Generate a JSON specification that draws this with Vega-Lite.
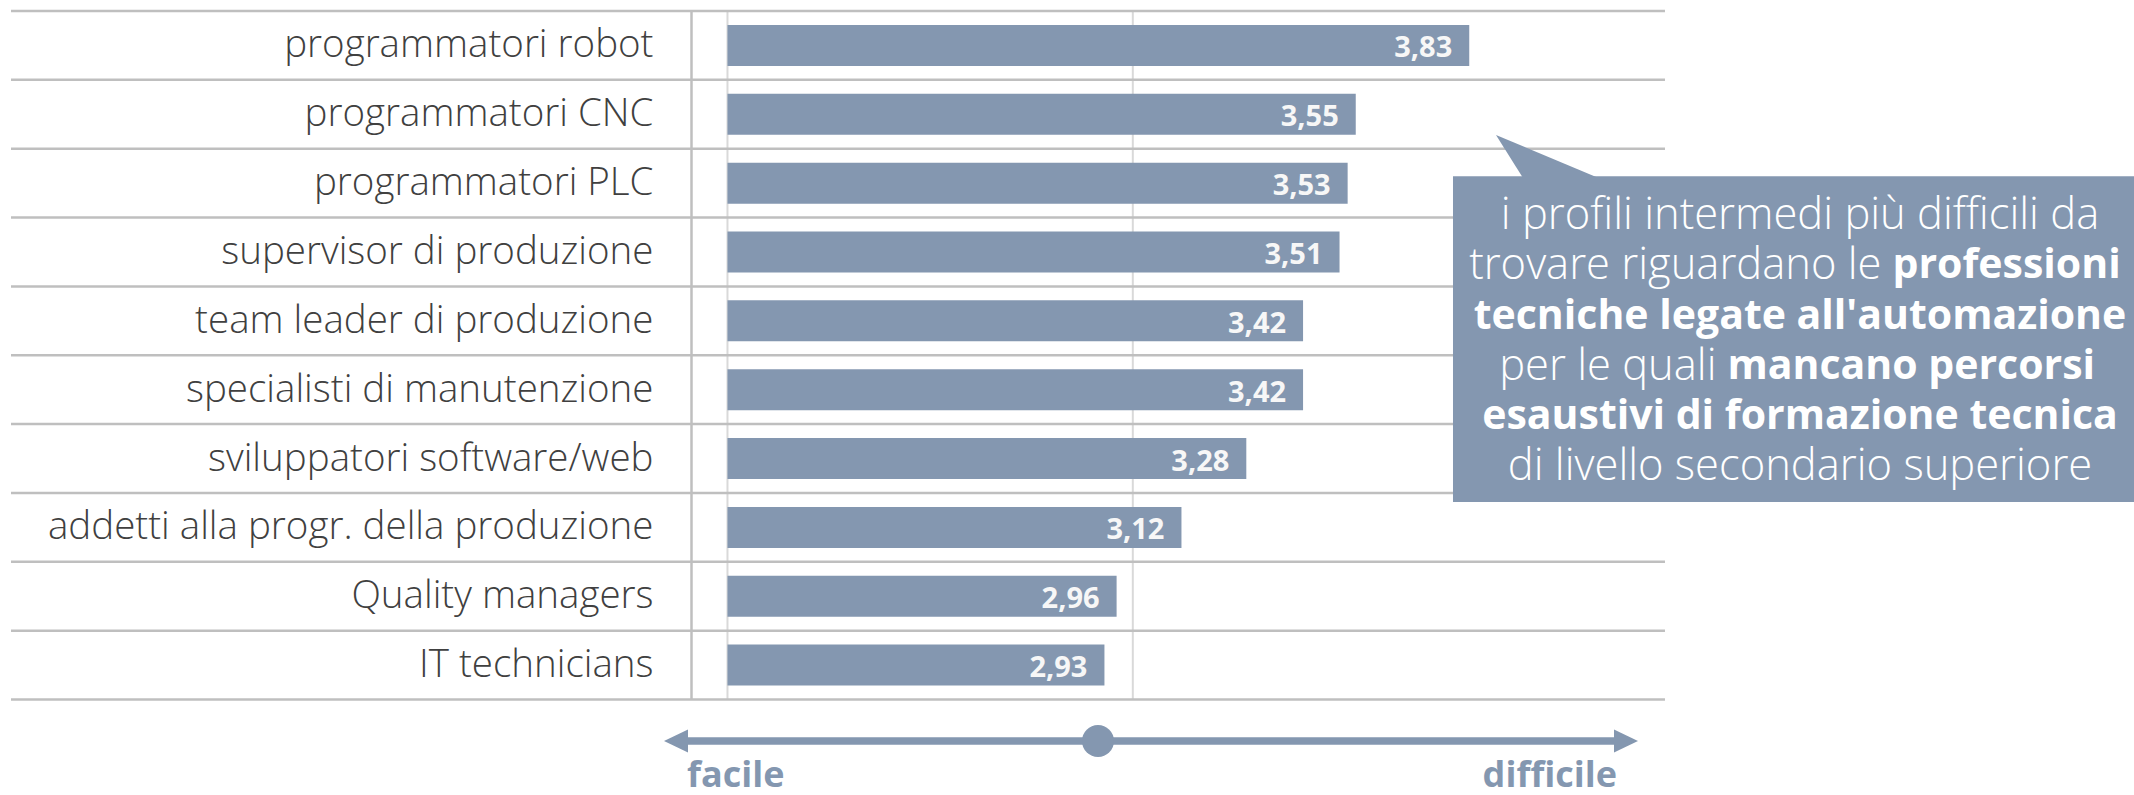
{
  "$schema": "https://vega.github.io/schema/vega-lite/v6.json",
  "width": 1443,
  "height": 795,
  "autosize": {"type": "none"},
  "padding": {"left": 691, "top": 0, "right": 0, "bottom": 0},
  "background": "white",
  "config": {
    "view": {"stroke": null},
    "locale": {"number": {"decimal": ",", "thousands": ".", "grouping": [3], "currency": ["", " €"]}}
  },
  "resolve": {"scale": {"y": "independent"}},
  "layer": [
    {
      "data": {"values": [{}]},
      "layer": [
        {
          "mark": {"type": "rule", "color": "#d9d9d9", "strokeWidth": 2},
          "encoding": {
            "x": {"datum": 2, "type": "quantitative", "scale": {"domain": [1.91, 5.47], "nice": false, "zero": false}, "axis": null},
            "y": {"datum": 0, "type": "quantitative", "scale": {"domain": [0, 10], "range": [11, 699.5], "nice": false, "zero": false}, "axis": null},
            "y2": {"datum": 10}
          }
        },
        {
          "mark": {"type": "rule", "color": "#d9d9d9", "strokeWidth": 2},
          "encoding": {
            "x": {"datum": 3, "type": "quantitative", "scale": {"domain": [1.91, 5.47], "nice": false, "zero": false}, "axis": null},
            "y": {"datum": 0, "type": "quantitative", "scale": {"domain": [0, 10], "range": [11, 699.5], "nice": false, "zero": false}, "axis": null},
            "y2": {"datum": 10}
          }
        },
        {
          "mark": {"type": "rule", "color": "#bfbfbf", "strokeWidth": 2.5},
          "encoding": {
            "x": {"datum": 0.2324, "type": "quantitative", "scale": {"domain": [1.91, 5.47], "nice": false, "zero": false}, "axis": null},
            "x2": {"datum": 4.3129},
            "y": {"datum": 10, "type": "quantitative", "scale": {"domain": [0, 10], "range": [11, 699.5], "nice": false, "zero": false}, "axis": null}
          }
        }
      ]
    },
    {
      "data": {
        "values": [
          {"profilo": "programmatori robot", "valore": 3.83},
          {"profilo": "programmatori CNC", "valore": 3.55},
          {"profilo": "programmatori PLC", "valore": 3.53},
          {"profilo": "supervisor di produzione", "valore": 3.51},
          {"profilo": "team leader di produzione", "valore": 3.42},
          {"profilo": "specialisti di manutenzione", "valore": 3.42},
          {"profilo": "sviluppatori software/web", "valore": 3.28},
          {"profilo": "addetti alla progr. della produzione", "valore": 3.12},
          {"profilo": "Quality managers", "valore": 2.96},
          {"profilo": "IT technicians", "valore": 2.93}
        ]
      },
      "layer": [
        {
          "mark": {"type": "rule", "color": "#bfbfbf", "strokeWidth": 2.5},
          "encoding": {
            "x": {"datum": 0.2324, "type": "quantitative", "scale": {"domain": [1.91, 5.47], "nice": false, "zero": false}, "axis": null},
            "x2": {"datum": 4.3129},
            "y": {"field": "profilo", "type": "nominal", "sort": null, "bandPosition": 0,
                  "scale": {"type": "band", "range": [11, 699.5], "paddingInner": 0, "paddingOuter": 0},
                  "axis": {"title": null, "orient": "left", "ticks": false, "domain": true, "domainColor": "#bfbfbf", "domainWidth": 2.5, "grid": false,
                           "labelFont": "Open Sans", "labelFontWeight": 300, "labelFontSize": 38.5, "labelColor": "#404040", "labelPadding": 38, "labelLimit": 900}}
          }
        },
        {
          "mark": {"type": "bar", "color": "#8497b0", "height": 41},
          "encoding": {
            "x": {"field": "valore", "type": "quantitative", "scale": {"domain": [1.91, 5.47], "nice": false, "zero": false}, "axis": null},
            "x2": {"datum": 2},
            "y": {"field": "profilo", "type": "nominal", "sort": null,
                  "scale": {"type": "band", "range": [11, 699.5], "paddingInner": 0, "paddingOuter": 0},
                  "axis": {"title": null, "orient": "left", "ticks": false, "domain": true, "domainColor": "#bfbfbf", "domainWidth": 2.5, "grid": false,
                           "labelFont": "Open Sans", "labelFontWeight": 300, "labelFontSize": 38.5, "labelColor": "#404040", "labelPadding": 38, "labelLimit": 900}}
          }
        },
        {
          "mark": {"type": "text", "align": "right", "baseline": "middle", "dx": -17, "dy": 3, "font": "Open Sans", "fontWeight": "bold", "fontSize": 29, "color": "#f7f7f7"},
          "encoding": {
            "x": {"field": "valore", "type": "quantitative", "scale": {"domain": [1.91, 5.47], "nice": false, "zero": false}, "axis": null},
            "y": {"field": "profilo", "type": "nominal", "sort": null,
                  "scale": {"type": "band", "range": [11, 699.5], "paddingInner": 0, "paddingOuter": 0},
                  "axis": {"title": null, "orient": "left", "ticks": false, "domain": true, "domainColor": "#bfbfbf", "domainWidth": 2.5, "grid": false,
                           "labelFont": "Open Sans", "labelFontWeight": 300, "labelFontSize": 38.5, "labelColor": "#404040", "labelPadding": 38, "labelLimit": 900}},
            "text": {"field": "valore", "type": "quantitative", "format": ".2f"}
          }
        }
      ]
    },
    {
      "data": {"values": [{}]},
      "encoding": {
        "y": {"datum": 0, "type": "quantitative", "scale": {"domain": [0, 10], "range": [11, 699.5], "nice": false, "zero": false}, "axis": null}
      },
      "layer": [
        {
          "mark": {"type": "point", "shape": "M-0.99,-0.5 L-0.363,0.5 L1.396,0.5 Z", "size": 10000, "filled": true, "color": "#8497b0", "opacity": 1, "strokeWidth": 0},
          "encoding": {
            "x": {"datum": 4.0181, "type": "quantitative", "scale": {"domain": [1.91, 5.47], "nice": false, "zero": false}, "axis": null},
            "y": {"datum": 2.1641, "type": "quantitative", "scale": {"domain": [0, 10], "range": [11, 699.5], "nice": false, "zero": false}, "axis": null}
          }
        },
        {
          "mark": {"type": "rect", "color": "#8497b0"},
          "encoding": {
            "x": {"datum": 3.7899, "type": "quantitative", "scale": {"domain": [1.91, 5.47], "nice": false, "zero": false}, "axis": null},
            "x2": {"datum": 5.5095},
            "y": {"datum": 2.40, "type": "quantitative", "scale": {"domain": [0, 10], "range": [11, 699.5], "nice": false, "zero": false}, "axis": null},
            "y2": {"datum": 7.13}
          }
        },
        {
          "mark": {"type": "text", "text": "i profili intermedi più difficili da", "align": "center", "baseline": "middle", "font": "Open Sans", "fontWeight": 300, "fontSize": 43.5, "color": "#ffffff"},
          "encoding": {
            "x": {"datum": 4.646, "type": "quantitative", "scale": {"domain": [1.91, 5.47], "nice": false, "zero": false}, "axis": null},
            "y": {"datum": 2.9775, "type": "quantitative", "scale": {"domain": [0, 10], "range": [11, 699.5], "nice": false, "zero": false}, "axis": null}
          }
        },
        {
          "mark": {"type": "text", "text": "trovare riguardano le", "align": "right", "baseline": "middle", "font": "Open Sans", "fontWeight": 300, "fontSize": 43.5, "color": "#ffffff"},
          "encoding": {
            "x": {"datum": 4.8470, "type": "quantitative", "scale": {"domain": [1.91, 5.47], "nice": false, "zero": false}, "axis": null},
            "y": {"datum": 3.708, "type": "quantitative", "scale": {"domain": [0, 10], "range": [11, 699.5], "nice": false, "zero": false}, "axis": null}
          }
        },
        {
          "mark": {"type": "text", "text": "professioni", "align": "left", "baseline": "middle", "font": "Open Sans", "fontWeight": "bold", "fontSize": 41, "color": "#ffffff"},
          "encoding": {
            "x": {"datum": 4.8742, "type": "quantitative", "scale": {"domain": [1.91, 5.47], "nice": false, "zero": false}, "axis": null},
            "y": {"datum": 3.708, "type": "quantitative", "scale": {"domain": [0, 10], "range": [11, 699.5], "nice": false, "zero": false}, "axis": null}
          }
        },
        {
          "mark": {"type": "text", "text": "tecniche legate all'automazione", "align": "center", "baseline": "middle", "font": "Open Sans", "fontWeight": "bold", "fontSize": 41, "color": "#ffffff"},
          "encoding": {
            "x": {"datum": 4.646, "type": "quantitative", "scale": {"domain": [1.91, 5.47], "nice": false, "zero": false}, "axis": null},
            "y": {"datum": 4.439, "type": "quantitative", "scale": {"domain": [0, 10], "range": [11, 699.5], "nice": false, "zero": false}, "axis": null}
          }
        },
        {
          "mark": {"type": "text", "text": "per le quali", "align": "right", "baseline": "middle", "font": "Open Sans", "fontWeight": 300, "fontSize": 43.5, "color": "#ffffff"},
          "encoding": {
            "x": {"datum": 4.4400, "type": "quantitative", "scale": {"domain": [1.91, 5.47], "nice": false, "zero": false}, "axis": null},
            "y": {"datum": 5.169, "type": "quantitative", "scale": {"domain": [0, 10], "range": [11, 699.5], "nice": false, "zero": false}, "axis": null}
          }
        },
        {
          "mark": {"type": "text", "text": "mancano percorsi", "align": "left", "baseline": "middle", "font": "Open Sans", "fontWeight": "bold", "fontSize": 41, "color": "#ffffff"},
          "encoding": {
            "x": {"datum": 4.4671, "type": "quantitative", "scale": {"domain": [1.91, 5.47], "nice": false, "zero": false}, "axis": null},
            "y": {"datum": 5.169, "type": "quantitative", "scale": {"domain": [0, 10], "range": [11, 699.5], "nice": false, "zero": false}, "axis": null}
          }
        },
        {
          "mark": {"type": "text", "text": "esaustivi di formazione tecnica", "align": "center", "baseline": "middle", "font": "Open Sans", "fontWeight": "bold", "fontSize": 41, "color": "#ffffff"},
          "encoding": {
            "x": {"datum": 4.646, "type": "quantitative", "scale": {"domain": [1.91, 5.47], "nice": false, "zero": false}, "axis": null},
            "y": {"datum": 5.900, "type": "quantitative", "scale": {"domain": [0, 10], "range": [11, 699.5], "nice": false, "zero": false}, "axis": null}
          }
        },
        {
          "mark": {"type": "text", "text": "di livello secondario superiore", "align": "center", "baseline": "middle", "font": "Open Sans", "fontWeight": 300, "fontSize": 43.5, "color": "#ffffff"},
          "encoding": {
            "x": {"datum": 4.646, "type": "quantitative", "scale": {"domain": [1.91, 5.47], "nice": false, "zero": false}, "axis": null},
            "y": {"datum": 6.630, "type": "quantitative", "scale": {"domain": [0, 10], "range": [11, 699.5], "nice": false, "zero": false}, "axis": null}
          }
        },
        {
          "mark": {"type": "rule", "color": "#8497b0", "strokeWidth": 7.5},
          "encoding": {
            "x": {"datum": 1.8829, "type": "quantitative", "scale": {"domain": [1.91, 5.47], "nice": false, "zero": false}, "axis": null},
            "x2": {"datum": 4.2019},
            "y": {"datum": 10.6028, "type": "quantitative", "scale": {"domain": [0, 10], "range": [11, 699.5], "nice": false, "zero": false}, "axis": null}
          }
        },
        {
          "mark": {"type": "point", "shape": "M-1,0 L1,-0.96 L1,0.96 Z", "size": 576, "filled": true, "color": "#8497b0", "opacity": 1, "strokeWidth": 0},
          "encoding": {
            "x": {"datum": 1.8730, "type": "quantitative", "scale": {"domain": [1.91, 5.47], "nice": false, "zero": false}, "axis": null},
            "y": {"datum": 10.6028, "type": "quantitative", "scale": {"domain": [0, 10], "range": [11, 699.5], "nice": false, "zero": false}, "axis": null}
          }
        },
        {
          "mark": {"type": "point", "shape": "M1,0 L-1,-0.96 L-1,0.96 Z", "size": 576, "filled": true, "color": "#8497b0", "opacity": 1, "strokeWidth": 0},
          "encoding": {
            "x": {"datum": 4.2167, "type": "quantitative", "scale": {"domain": [1.91, 5.47], "nice": false, "zero": false}, "axis": null},
            "y": {"datum": 10.6028, "type": "quantitative", "scale": {"domain": [0, 10], "range": [11, 699.5], "nice": false, "zero": false}, "axis": null}
          }
        },
        {
          "mark": {"type": "point", "shape": "circle", "size": 1024, "filled": true, "color": "#8497b0", "opacity": 1, "strokeWidth": 0},
          "encoding": {
            "x": {"datum": 2.9141, "type": "quantitative", "scale": {"domain": [1.91, 5.47], "nice": false, "zero": false}, "axis": null},
            "y": {"datum": 10.6028, "type": "quantitative", "scale": {"domain": [0, 10], "range": [11, 699.5], "nice": false, "zero": false}, "axis": null}
          }
        },
        {
          "mark": {"type": "text", "text": "facile", "align": "left", "baseline": "alphabetic", "font": "Open Sans", "fontWeight": "bold", "fontSize": 36, "color": "#8497b0"},
          "encoding": {
            "x": {"datum": 1.9001, "type": "quantitative", "scale": {"domain": [1.91, 5.47], "nice": false, "zero": false}, "axis": null},
            "y": {"datum": 11.278, "type": "quantitative", "scale": {"domain": [0, 10], "range": [11, 699.5], "nice": false, "zero": false}, "axis": null}
          }
        },
        {
          "mark": {"type": "text", "text": "difficile", "align": "right", "baseline": "alphabetic", "font": "Open Sans", "fontWeight": "bold", "fontSize": 36, "color": "#8497b0"},
          "encoding": {
            "x": {"datum": 4.1945, "type": "quantitative", "scale": {"domain": [1.91, 5.47], "nice": false, "zero": false}, "axis": null},
            "y": {"datum": 11.278, "type": "quantitative", "scale": {"domain": [0, 10], "range": [11, 699.5], "nice": false, "zero": false}, "axis": null}
          }
        }
      ]
    }
  ]
}
